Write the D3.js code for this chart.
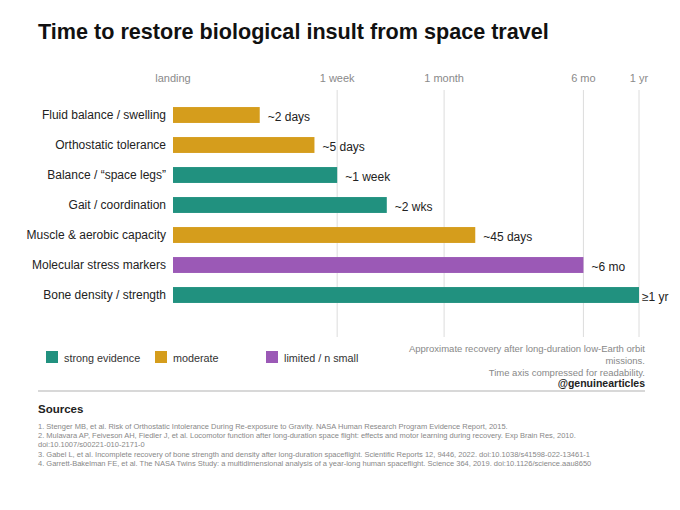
<!DOCTYPE html>
<html lang="en">
<head>
<meta charset="UTF-8">
<title>Time to restore biological insult from space travel</title>
<script src="https://cdnjs.cloudflare.com/ajax/libs/d3/7.8.5/d3.min.js"></script>
<style>
    body { margin: 0; background: #fff; font-family: 'Liberation Sans', Arial, sans-serif; }
    svg { display: block; }
    .tick-label { font-size: 11px; fill: #8a8a8a; text-anchor: middle; }
    .cat-label { font-size: 12px; fill: #222; text-anchor: end; }
    .val-label { font-size: 12px; fill: #222; }
    .legend-label { font-size: 10.8px; fill: #333; }
    .note { font-size: 9.5px; fill: #888; text-anchor: end; }
    .source { font-size: 7.5px; fill: #888; }
</style>
</head>
<body>
<svg id="chart" width="680" height="510"></svg>
<script>
// data
const categories = [
    'Fluid balance / swelling',
    'Orthostatic tolerance',
    'Balance / \u201cspace legs\u201d',
    'Gait / coordination',
    'Muscle & aerobic capacity',
    'Molecular stress markers',
    'Bone density / strength'
];
const recoveryDays = [2, 5, 7, 14, 45, 180, 365];
const valueLabels = ['~2 days', '~5 days', '~1 week', '~2 wks', '~45 days', '~6 mo', '\u22651 yr'];
const evidence = ['moderate', 'moderate', 'strong', 'strong', 'moderate', 'limited', 'strong'];

const tickDays = [0, 7, 30, 180, 365];
const tickLabels = ['landing', '1 week', '1 month', '6 mo', '1 yr'];

const evidenceLevels = ['strong', 'moderate', 'limited'];
const evidenceNames = ['strong evidence', 'moderate', 'limited / n small'];
const evidenceColors = ['#21917f', '#d59d1c', '#9b59b6'];

const noteLines = [
    'Approximate recovery after long-duration low-Earth orbit',
    'missions.',
    'Time axis compressed for readability.'
];
const sources = [
    '1.  Stenger MB, et al. Risk of Orthostatic Intolerance During Re-exposure to Gravity. NASA Human Research Program Evidence Report, 2015.',
    '2.  Mulavara AP, Feiveson AH, Fiedler J, et al. Locomotor function after long-duration space flight: effects and motor learning during recovery. Exp Brain Res, 2010.',
    'doi:10.1007/s00221-010-2171-0',
    '3.  Gabel L, et al. Incomplete recovery of bone strength and density after long-duration spaceflight. Scientific Reports 12, 9446, 2022. doi:10.1038/s41598-022-13461-1',
    '4.  Garrett-Bakelman FE, et al. The NASA Twins Study: a multidimensional analysis of a year-long human spaceflight. Science 364, 2019. doi:10.1126/science.aau8650'
];

const svg = d3.select('#chart');

// time axis is log(1 + days), so landing sits at 0
const x = d3.scaleSymlog().constant(1).domain([0, 365]).range([173, 639]);
const y = d3.scaleBand().domain(categories).range([100, 310])
    .paddingInner(0.47).paddingOuter(0.235);
const color = d3.scaleOrdinal().domain(evidenceLevels).range(evidenceColors);

// title
svg.append('text')
    .attr('x', 38).attr('y', 39)
    .style('font-size', '21.6px').style('font-weight', 'bold').style('fill', '#111')
    .text('Time to restore biological insult from space travel');

// gridlines (none at landing)
svg.append('g').selectAll('line')
    .data(tickDays.filter(d => d > 0))
    .join('line')
    .attr('x1', d => x(d)).attr('x2', d => x(d))
    .attr('y1', 90).attr('y2', 337)
    .attr('stroke', '#dcdcdc').attr('stroke-width', 1);

// tick labels
svg.append('g').selectAll('text')
    .data(tickDays)
    .join('text')
    .attr('class', 'tick-label')
    .attr('x', d => x(d)).attr('y', 82)
    .text((d, i) => tickLabels[i]);

// bars
const rows = categories.map((c, i) => ({ c, v: recoveryDays[i], lab: valueLabels[i], ev: evidence[i] }));

svg.append('g').selectAll('rect')
    .data(rows)
    .join('rect')
    .attr('x', x(0))
    .attr('y', d => y(d.c))
    .attr('width', d => x(d.v) - x(0))
    .attr('height', y.bandwidth())
    .attr('fill', d => color(d.ev));

svg.append('g').selectAll('text')
    .data(rows)
    .join('text')
    .attr('class', 'cat-label')
    .attr('x', 166)
    .attr('y', d => y(d.c) + y.bandwidth() / 2 + 4)
    .text(d => d.c);

svg.append('g').selectAll('text')
    .data(rows)
    .join('text')
    .attr('class', 'val-label')
    .attr('x', d => x(d.v) + (d.v >= 365 ? 3 : 8))
    .attr('y', d => y(d.c) + y.bandwidth() / 2 + 6)
    .text(d => d.lab);

// legend
const legendX = [46, 155, 266];
const legend = svg.append('g').selectAll('g')
    .data(evidenceLevels)
    .join('g')
    .attr('transform', (d, i) => `translate(${legendX[i]},351)`);
legend.append('rect')
    .attr('width', 12).attr('height', 12)
    .attr('fill', d => color(d));
legend.append('text')
    .attr('class', 'legend-label')
    .attr('x', 18).attr('y', 10.5)
    .text((d, i) => evidenceNames[i]);

// note + handle
svg.append('g').selectAll('text')
    .data(noteLines)
    .join('text')
    .attr('class', 'note')
    .attr('x', 645)
    .attr('y', (d, i) => 352 + i * 12)
    .text(d => d);
svg.append('text')
    .attr('x', 645).attr('y', 387)
    .attr('text-anchor', 'end')
    .style('font-size', '10.5px').style('font-weight', 'bold').style('fill', '#222')
    .text('@genuinearticles');

svg.append('line')
    .attr('x1', 38).attr('x2', 645)
    .attr('y1', 391).attr('y2', 391)
    .attr('stroke', '#d8d8d8').attr('stroke-width', 2);

// sources
svg.append('text')
    .attr('x', 38).attr('y', 413)
    .style('font-size', '11.5px').style('font-weight', 'bold').style('fill', '#222')
    .text('Sources');
svg.append('g').selectAll('text')
    .data(sources)
    .join('text')
    .attr('class', 'source')
    .attr('x', 38)
    .attr('y', (d, i) => 429 + i * 9.2)
    .text(d => d);
</script>
</body>
</html>
